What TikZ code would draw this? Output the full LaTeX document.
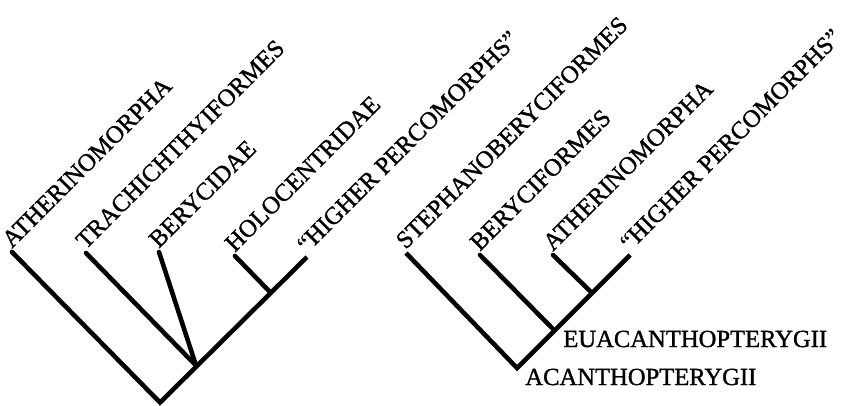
\documentclass[tikz,border=0pt]{standalone}
\usepackage{fontspec}
\setmainfont{Liberation Serif}
\usepackage{tikz}
\usetikzlibrary{positioning, calc}

\newcommand{\taxfont}{\fontsize{14}{16}\selectfont\addfontfeature{FakeBold=1.2}}
\tikzset{
  branch/.style={line width=2.6pt, line cap=round},
  taxon/.style={rotate=45, anchor=south west, inner sep=1pt, font=\taxfont},
  grouplabel/.style={anchor=base west, inner sep=0pt, font=\taxfont}
}

\begin{document}
\begin{tikzpicture}
\useasboundingbox (0,0) rectangle (16.9,8.1);
% Left tree: tips and nodes
\coordinate (rootL) at (3.20,0.05);
\coordinate (athL) at (0.24,3.06);
\coordinate (trachL) at (1.72,3.04);
\coordinate (beryL) at (3.18,3.06);
\coordinate (nodeA) at (3.92,0.79);
\coordinate (holoL) at (4.70,2.98);
\coordinate (nodeB) at (5.40,2.26);
\coordinate (highL) at (6.14,2.96);
\draw[branch, line cap=butt] (athL) -- (rootL) -- (highL);
\draw[branch] (athL) -- ($(athL)!0.01!(rootL)$);
\draw[branch] (trachL) -- (nodeA);
\draw[branch] (beryL) -- (nodeA);
\draw[branch] (holoL) -- (nodeB);
% Left tree labels
\node[taxon] (tAthL) at (athL) {ATHERINOMORPHA};
\node[taxon] (tTrachL) at (trachL) {TRACHICHTHYIFORMES};
\node[taxon] (tBeryL) at (beryL) {BERYCIDAE};
\node[taxon] (tHoloL) at (holoL) {HOLOCENTRIDAE};
\node[taxon] (tHighL) at (highL) {``HIGHER PERCOMORPHS''};
% Right tree: tips and nodes
\coordinate (rootR) at (10.34,0.74);
\coordinate (stephR) at (8.12,3.04);
\coordinate (nodeC) at (11.04,1.54);
\coordinate (berycR) at (9.60,3.00);
\coordinate (nodeD) at (11.80,2.28);
\coordinate (athR) at (11.06,3.00);
\coordinate (highR) at (12.60,3.00);
\draw[branch, line cap=butt] (stephR) -- (rootR) -- (highR);
\draw[branch] (berycR) -- (nodeC);
\draw[branch] (athR) -- (nodeD);
% Right tree labels
\node[taxon] (tStephR) at (stephR) {STEPHANOBERYCIFORMES};
\node[taxon] (tBerycR) at (berycR) {BERYCIFORMES};
\node[taxon] (tAthR) at (athR) {ATHERINOMORPHA};
\node[taxon] (tHighR) at (highR) {``HIGHER PERCOMORPHS''};
\node[grouplabel] (euacanth) at (11.26,1.16) {EUACANTHOPTERYGII};
\node[grouplabel] (acanth) at (10.50,0.40) {ACANTHOPTERYGII};
\end{tikzpicture}
\end{document}
